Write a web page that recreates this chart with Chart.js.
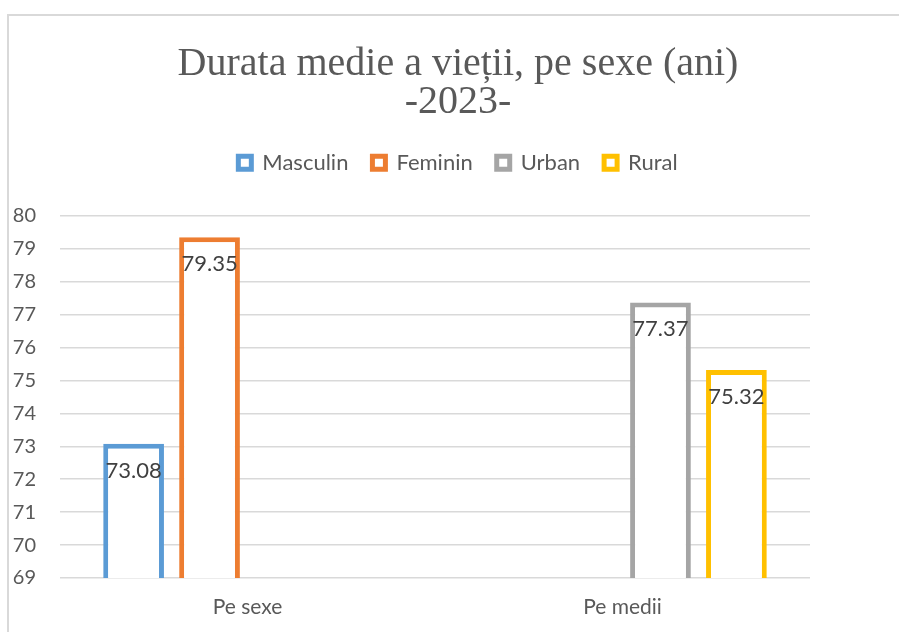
<!DOCTYPE html>
<html>
<head>
<meta charset="utf-8">
<script src="https://cdn.jsdelivr.net/npm/chart.js@4"></script>
<style>
  html, body { margin: 0; padding: 0; background: #fff; }
  #wrap { width: 899px; height: 632px; position: relative; }
</style>
</head>
<body>
<div id="wrap"><canvas id="chart"></canvas></div>
<script>
// Data
const categories = ['Pe sexe', 'Pe medii'];
const masculin = [73.08, null];
const feminin = [79.35, null];
const urban = [null, 77.37];
const rural = [null, 75.32];
const yMin = 69;
const yMax = 80;

const FONT = 'Lato, "Open Sans", sans-serif';
const GRAY_TEXT = '#595959';

// thin frame around the chart, clipped on right and bottom like the source
const framePlugin = {
    id: 'frame',
    beforeDraw(chart) {
        const ctx = chart.ctx;
        ctx.save();
        ctx.fillStyle = '#fff';
        ctx.fillRect(0, 0, chart.width, chart.height);
        ctx.strokeStyle = '#d9d9d9';
        ctx.lineWidth = 2;
        ctx.beginPath();
        ctx.moveTo(chart.width, 15);
        ctx.lineTo(8, 15);
        ctx.lineTo(8, chart.height);
        ctx.stroke();
        ctx.restore();
    }
};

// value labels just inside the top of each bar
const valueLabels = {
    id: 'valueLabels',
    afterDatasetsDraw(chart) {
        const ctx = chart.ctx;
        ctx.save();
        ctx.font = '22px ' + FONT;
        ctx.fillStyle = '#404040';
        ctx.textAlign = 'center';
        ctx.textBaseline = 'middle';
        chart.data.datasets.forEach((ds, i) => {
            chart.getDatasetMeta(i).data.forEach((bar, j) => {
                const v = ds.data[j];
                if (v === null || v === undefined) return;
                ctx.fillText(v.toFixed(2), bar.x, bar.y + 27);
            });
        });
        ctx.restore();
    }
};

// push the plot area down below the legend
const legendGap = {
    id: 'legendGap',
    afterInit(chart) {
        const leg = chart.legend;
        if (!leg) return;
        const origFit = leg.fit;
        leg.fit = function () {
            origFit.call(this);
            this.height += 32;
        };
    }
};

function series(label, data, color) {
    return {
        label: label,
        data: data,
        backgroundColor: '#ffffff',
        borderColor: color,
        borderWidth: 5,
        borderSkipped: false,
        categoryPercentage: 0.81,
        barPercentage: 0.8
    };
}

new Chart(document.getElementById('chart'), {
    type: 'bar',
    data: {
        labels: categories,
        datasets: [
            series('Masculin', masculin, '#5B9BD5'),
            series('Feminin', feminin, '#ED7D31'),
            series('Urban', urban, '#A5A5A5'),
            series('Rural', rural, '#FFC000')
        ]
    },
    options: {
        responsive: true,
        maintainAspectRatio: false,
        animation: false,
        // negative right padding shifts the title/legend centre to match the source
        layout: { padding: { top: 0, right: -17, bottom: 0, left: 0 } },
        plugins: {
            title: {
                display: true,
                text: ['Durata medie a vieții, pe sexe (ani)', '-2023-'],
                color: GRAY_TEXT,
                font: { family: '"Liberation Serif", "Times New Roman", serif', size: 40, weight: 'normal', lineHeight: 0.96 },
                padding: { top: 45, bottom: 6 }
            },
            legend: {
                display: true,
                position: 'top',
                labels: {
                    color: GRAY_TEXT,
                    font: { family: FONT, size: 22 },
                    boxWidth: 13,
                    boxHeight: 13,
                    padding: 24,
                    generateLabels(chart) {
                        const items = Chart.defaults.plugins.legend.labels.generateLabels(chart);
                        items.forEach(it => { it.lineWidth = 5; });
                        return items;
                    }
                }
            },
            tooltip: { enabled: false }
        },
        scales: {
            x: {
                afterFit(scale) { scale.height = 54; },
                grid: { display: false, drawTicks: false },
                border: { display: false },
                ticks: {
                    color: GRAY_TEXT,
                    font: { family: FONT, size: 21 },
                    padding: 17
                }
            },
            y: {
                min: yMin,
                max: yMax,
                afterFit(scale) { scale.width = 60; },
                border: { display: false },
                grid: { color: '#d9d9d9', lineWidth: 1.5, drawTicks: false },
                ticks: {
                    stepSize: 1,
                    color: GRAY_TEXT,
                    font: { family: FONT, size: 20 },
                    padding: 24
                }
            },
            // empty right-hand axis, only reserves the blank strip right of the plot
            yRight: {
                position: 'right',
                afterFit(scale) { scale.width = 106; },
                grid: { display: false, drawTicks: false },
                border: { display: false },
                ticks: { display: false }
            }
        }
    },
    plugins: [framePlugin, valueLabels, legendGap]
});
</script>
</body>
</html>
